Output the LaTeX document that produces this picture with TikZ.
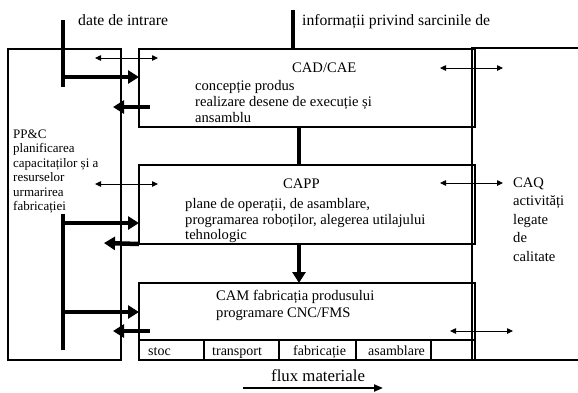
\documentclass[tikz,border=0pt]{standalone}
\usepackage{fontspec}
\setmainfont{Liberation Serif}
\usetikzlibrary{arrows.meta}
\begin{document}
\begin{tikzpicture}[x=1pt,y=-1pt,
  box/.style={draw,line width=2.8pt,inner sep=0pt,outer sep=0pt},
  thk/.style={line width=4.5pt},
  thkarrow/.style={line width=4.5pt,-{Triangle[length=11pt,width=13pt]}},
  thinarrow/.style={line width=0.8pt,{Triangle[length=6pt,width=5.5pt]}-{Triangle[length=6pt,width=5.5pt]}},
  frame/.style={line width=2.8pt},
  lbl/.style={anchor=base west,inner sep=0pt,font=\fontsize{14.6}{16}\selectfont},
  toplbl/.style={anchor=base west,inner sep=0pt,font=\fontsize{15.7}{17}\selectfont},
  fluxlbl/.style={anchor=base west,inner sep=0pt,font=\fontsize{16.8}{18}\selectfont},
  smlbl/.style={anchor=base west,inner sep=0pt,font=\fontsize{13}{14}\selectfont},
  caqlbl/.style={anchor=base west,inner sep=0pt,font=\fontsize{14.6}{16}\selectfont},
  celllbl/.style={anchor=base west,inner sep=0pt,font=\fontsize{14}{15}\selectfont}
]
\useasboundingbox (0,0) rectangle (578,392);

% boxes
\node[box,minimum width=113pt,minimum height=311pt] (ppc) at (64.5,204.5) {};
\node[box,minimum width=336pt,minimum height=78pt] (cad) at (307,88) {};
\node[box,minimum width=336pt,minimum height=79pt] (capp) at (307,204.5) {};
\node[box,minimum width=336pt,minimum height=77pt] (cam) at (307,321.5) {};

% CAQ frame (open to the right)
\coordinate (qtl) at (472,48);
\coordinate (qbl) at (472,360);
\coordinate (qtr) at (580,48);
\coordinate (qbr) at (580,360);
\draw[frame] (qtr) -- (qtl) -- (qbl) -- (qbr);

% CAM cells
\coordinate (c0) at (139,340);
\draw[line width=2.2pt] (c0) -- (c0 -| cam.east);
\foreach \x in {204,279,356,431} {
  \draw[line width=2.2pt] (\x,340) -- (\x,360);
}

% vertical connectors between modules
\coordinate (vx) at (299,0);
\draw[thk] (vx |- cad.south) -- (vx |- capp.north);
\draw[thkarrow] (vx |- capp.south) -- (vx |- cam.north);

% top inputs
\coordinate (inf1) at (293,10);
\draw[line width=4pt] (inf1) -- (inf1 |- cad.north);
\coordinate (din1) at (63,20);
\coordinate (din2) at (63,87);
\draw[thk] (din1) -- (din2);
\coordinate (a1) at (63,77);
\draw[thkarrow] (a1) -- (a1 -| cad.west);
\coordinate (r1) at (150,107);
\coordinate (r1e) at (113,107);
\draw[thkarrow] (r1) -- (r1e);

% CAPP / CAM links
\coordinate (lv1) at (63,214);
\coordinate (lv2) at (63,350);
\draw[thk] (lv1) -- (lv2);
\coordinate (a2) at (63,223);
\draw[thkarrow] (a2) -- (a2 -| capp.west);
\coordinate (r2e) at (104,243);
\draw[thkarrow] (capp.south west) -- (r2e);
\coordinate (a3) at (63,312);
\draw[thkarrow] (a3) -- (a3 -| cam.west);
\coordinate (r3) at (150,331);
\coordinate (r3e) at (113,331);
\draw[thkarrow] (r3) -- (r3e);

% thin double arrows
\coordinate (t1a) at (95,58);  \coordinate (t1b) at (158,58);
\coordinate (t2a) at (440,68); \coordinate (t2b) at (503,68);
\coordinate (t3a) at (95,184); \coordinate (t3b) at (158,184);
\coordinate (t4a) at (440,183); \coordinate (t4b) at (503,183);
\coordinate (t5a) at (450,331); \coordinate (t5b) at (513,331);
\draw[thinarrow] (t1a) -- (t1b);
\draw[thinarrow] (t2a) -- (t2b);
\draw[thinarrow] (t3a) -- (t3b);
\draw[thinarrow] (t4a) -- (t4b);
\draw[thinarrow] (t5a) -- (t5b);

% flux materiale
\coordinate (f1) at (243,388);
\coordinate (f2) at (383,388);
\draw[line width=2pt,-{Triangle[length=9pt,width=7pt]}] (f1) -- (f2);
\node[fluxlbl] (flux) at (271,381) {flux materiale};

% top labels
\node[toplbl] (dinl) at (78,25) {date de intrare};
\node[toplbl] (infl) at (302,25) {informații privind sarcinile de};

% CAD text
\node[lbl] (cadt) at (292,72) {CAD/CAE};
\node[lbl] (cad1) at (195,90) {concepție produs};
\node[lbl] (cad2) at (195,106) {realizare desene de execuție și};
\node[lbl] (cad3) at (195,122) {ansamblu};

% PP&C text
\node[smlbl] (p0) at (13,138) {PP\&C};
\node[smlbl] (p1) at (13,152.5) {planificarea};
\node[smlbl] (p2) at (13,167) {capacitaților și a};
\node[smlbl] (p3) at (13,181.5) {resurselor};
\node[smlbl] (p4) at (13,196) {urmarirea};
\node[smlbl] (p5) at (13,210.5) {fabricației};

% CAPP text
\node[lbl] (cappt) at (283,188) {CAPP};
\node[lbl] (capp1) at (185,208) {plane de operații, de asamblare,};
\node[lbl] (capp2) at (185,224) {programarea roboților, alegerea utilajului};
\node[lbl] (capp3) at (185,239) {tehnologic};

% CAQ text
\node[caqlbl] (q0) at (513,187) {CAQ};
\node[caqlbl] (q1) at (513,205.5) {activități};
\node[caqlbl] (q2) at (513,224) {legate};
\node[caqlbl] (q3) at (513,242.5) {de};
\node[caqlbl] (q4) at (513,261) {calitate};

% CAM text
\node[lbl] (camt) at (216,300) {CAM fabricația produsului};
\node[lbl] (cam1) at (216,317) {programare CNC/FMS};

% cells
\node[celllbl] (s1) at (148,355) {stoc};
\node[celllbl] (s2) at (212,355) {transport};
\node[celllbl] (s3) at (293,355) {fabricație};
\node[celllbl] (s4) at (368,355) {asamblare};
\end{tikzpicture}
\end{document}
